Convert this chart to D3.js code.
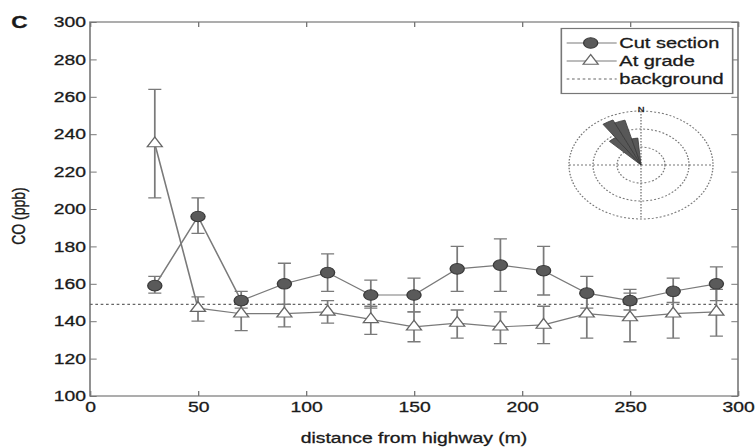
<!DOCTYPE html>
<html>
<head>
<meta charset="utf-8">
<script src="https://cdn.jsdelivr.net/npm/d3@7"></script>
<style>
  body { margin: 0; background: #fff; }
  svg { display: block; }
  text { font-family: "Liberation Sans", Arial, sans-serif; fill: #1a1a1a; stroke: #1a1a1a; stroke-width: 0.3; }
</style>
</head>
<body>
<div id="vis"></div>
<script>
// CO vs distance, cut section vs at grade
const distance = [30, 50, 70, 90, 110, 130, 150, 170, 190, 210, 230, 250, 270, 290]

const cutMean = [159, 196, 151, 160, 166, 154, 154, 168, 170, 167, 155, 151, 156, 160]
const cutLow  = [155, 187, 147, 149, 156, 147, 145, 156, 156, 154, 147, 146, 150, 151]
const cutHigh = [164, 206, 156, 171, 176, 162, 163, 180, 184, 180, 164, 157, 163, 169]

const gradeMean = [235, 147, 144, 144, 145, 141, 137, 139, 137, 138, 144, 142, 144, 145]
const gradeLow  = [206, 140, 135, 137, 139, 133, 129, 131, 128, 128, 131, 129, 131, 132]
const gradeHigh = [264, 153, 150, 149, 151, 148, 145, 146, 145, 148, 155, 155, 156, 157]

const background = 149

const xTicks = [0, 50, 100, 150, 200, 250, 300]
const yTicks = [100, 120, 140, 160, 180, 200, 220, 240, 260, 280, 300]

const legendLabels = ['Cut section', 'At grade', 'background']

// wind rose: sector centre (deg from N) and relative frequency
const windDir = [320, 330, 340, 350]
const windFreq = [0.62, 0.92, 0.86, 0.5]
const windRings = [1/3, 2/3, 1]

// the original figure is stretched horizontally, so draw in a narrower box and stretch it
const W = 567, H = 448
const margin = {left: 67.5, right: 13.5, top: 22, bottom: 52}

const x = d3.scaleLinear([0, 300], [margin.left, W - margin.right])
const y = d3.scaleLinear([100, 300], [H - margin.bottom, margin.top])

const svg = d3.select('#vis').append('svg')
    .attr('width', 756)
    .attr('height', 448)
    .attr('viewBox', `0 0 ${W} ${H}`)
    .attr('preserveAspectRatio', 'none')

const axisColor = '#777'
const lineColor = '#7a7a7a'

// axes (ticks pointing inwards, on all four sides)
svg.append('g')
    .attr('transform', `translate(0,${y(100)})`)
    .call(d3.axisBottom(x).tickValues(xTicks).tickSize(-5).tickPadding(6))
    .call(g => g.select('.domain').remove())
    .call(g => g.selectAll('.tick line').attr('stroke', axisColor))
    .call(g => g.selectAll('.tick text').attr('font-size', 14.5).attr('fill', '#1a1a1a'))

svg.append('g')
    .attr('transform', `translate(${x(0)},0)`)
    .call(d3.axisLeft(y).tickValues(yTicks).tickSize(-5).tickPadding(3))
    .call(g => g.select('.domain').remove())
    .call(g => g.selectAll('.tick line').attr('stroke', axisColor))
    .call(g => g.selectAll('.tick text').attr('font-size', 14.5).attr('fill', '#1a1a1a'))

svg.append('g')
    .attr('transform', `translate(0,${y(300)})`)
    .call(d3.axisTop(x).tickValues(xTicks).tickSize(-5).tickFormat(''))
    .call(g => g.select('.domain').remove())
    .call(g => g.selectAll('.tick line').attr('stroke', axisColor))

svg.append('g')
    .attr('transform', `translate(${x(300)},0)`)
    .call(d3.axisRight(y).tickValues(yTicks).tickSize(-5).tickFormat(''))
    .call(g => g.select('.domain').remove())
    .call(g => g.selectAll('.tick line').attr('stroke', axisColor))

svg.append('rect')
    .attr('x', x(0)).attr('y', y(300))
    .attr('width', x(300) - x(0)).attr('height', y(100) - y(300))
    .attr('fill', 'none').attr('stroke', axisColor).attr('stroke-width', 1.2)

// titles
svg.append('text')
    .attr('x', 8.5).attr('y', 28)
    .attr('font-size', 17).attr('font-weight', 'bold')
    .text('C')

svg.append('text')
    .attr('x', (x(0) + x(300)) / 2).attr('y', 443)
    .attr('text-anchor', 'middle')
    .attr('font-size', 14.5)
    .text('distance from highway (m)')

svg.append('text')
    .attr('transform', `translate(19,216) rotate(-90)`)
    .attr('text-anchor', 'middle')
    .attr('font-size', 14)
    .text('CO (ppb)')

// background
svg.append('line')
    .attr('x1', x(0)).attr('x2', x(300))
    .attr('y1', y(background)).attr('y2', y(background))
    .attr('stroke', '#666').attr('stroke-width', 1.2)
    .attr('stroke-dasharray', '2,2')

// series
const cut = distance.map((d, i) => ({d, m: cutMean[i], lo: cutLow[i], hi: cutHigh[i]}))
const grade = distance.map((d, i) => ({d, m: gradeMean[i], lo: gradeLow[i], hi: gradeHigh[i]}))

const line = d3.line().x(p => x(p.d)).y(p => y(p.m))

function errorBars(data, cls){
    let g = svg.append('g').attr('class', cls)
        .attr('stroke', lineColor).attr('stroke-width', 1.3).attr('fill', 'none')
    let cap = 4.9
    g.selectAll('path')
        .data(data).enter()
        .append('path')
        .attr('d', p => `M${x(p.d)},${y(p.lo)}V${y(p.hi)}` +
            `M${x(p.d) - cap},${y(p.lo)}H${x(p.d) + cap}` +
            `M${x(p.d) - cap},${y(p.hi)}H${x(p.d) + cap}`)
}

errorBars(grade, 'grade-err')
errorBars(cut, 'cut-err')

svg.append('path').datum(grade)
    .attr('d', line).attr('fill', 'none')
    .attr('stroke', lineColor).attr('stroke-width', 1.2)

svg.append('path').datum(cut)
    .attr('d', line).attr('fill', 'none')
    .attr('stroke', lineColor).attr('stroke-width', 1.2)

const tri = d3.symbol().type(d3.symbolTriangle).size(55)

svg.selectAll('.grade-pt')
    .data(grade).enter()
    .append('path')
    .attr('class', 'grade-pt')
    .attr('transform', p => `translate(${x(p.d)},${y(p.m)})`)
    .attr('d', tri)
    .attr('fill', '#fff').attr('stroke', '#666').attr('stroke-width', 1.1)

svg.selectAll('.cut-pt')
    .data(cut).enter()
    .append('circle')
    .attr('class', 'cut-pt')
    .attr('cx', p => x(p.d)).attr('cy', p => y(p.m))
    .attr('r', 5.3)
    .attr('fill', '#5a5a5a').attr('stroke', '#3a3a3a').attr('stroke-width', 1)

// legend
const lg = svg.append('g')
lg.append('rect')
    .attr('x', 421).attr('y', 28.5)
    .attr('width', 128.5).attr('height', 65)
    .attr('fill', '#fff').attr('stroke', axisColor).attr('stroke-width', 1.2)

const legendY = d3.scalePoint(legendLabels, [43, 79])

lg.selectAll('.leg-line')
    .data(legendLabels).enter()
    .append('line')
    .attr('x1', 425).attr('x2', 462.5)
    .attr('y1', d => legendY(d)).attr('y2', d => legendY(d))
    .attr('stroke', (d, i) => i < 2 ? lineColor : '#666')
    .attr('stroke-width', 1.2)
    .attr('stroke-dasharray', (d, i) => i < 2 ? null : '2,2')

lg.append('circle')
    .attr('cx', 443).attr('cy', legendY('Cut section')).attr('r', 5.3)
    .attr('fill', '#5a5a5a').attr('stroke', '#3a3a3a')

lg.append('path')
    .attr('transform', `translate(443,${legendY('At grade')})`)
    .attr('d', tri)
    .attr('fill', '#fff').attr('stroke', '#666').attr('stroke-width', 1.1)

lg.selectAll('.leg-text')
    .data(legendLabels).enter()
    .append('text')
    .attr('x', 464.5)
    .attr('y', d => legendY(d) + 5)
    .attr('font-size', 15)
    .text(d => d)

// wind rose
const cx = 480.75, cy = 165
const rose = svg.append('g').attr('transform', `translate(${cx},${cy})`)
const r = d3.scaleLinear([0, 1], [0, 54])

rose.selectAll('.ring')
    .data(windRings).enter()
    .append('circle')
    .attr('r', d => r(d))
    .attr('fill', 'none').attr('stroke', '#777')
    .attr('stroke-width', 1).attr('stroke-dasharray', '1.5,1.5')

rose.append('path')
    .attr('d', `M${-r(1)},0H${r(1)}M0,${-r(1)}V${r(1)}`)
    .attr('stroke', '#777').attr('stroke-width', 1).attr('stroke-dasharray', '1.5,1.5')

const arc = d3.arc()
    .innerRadius(0)
    .outerRadius(d => r(d.f))
    .startAngle(d => (d.dir - 5) * Math.PI / 180)
    .endAngle(d => (d.dir + 5) * Math.PI / 180)

rose.selectAll('.wedge')
    .data(windDir.map((dir, i) => ({dir, f: windFreq[i]}))).enter()
    .append('path')
    .attr('d', arc)
    .attr('fill', '#585858').attr('stroke', '#3a3a3a').attr('stroke-width', 0.7)

rose.append('text')
    .attr('x', 0).attr('y', -r(1) + 1)
    .attr('text-anchor', 'middle')
    .attr('font-size', 7).attr('fill', '#666')
    .attr('stroke', 'none')
    .text('N')
</script>
</body>
</html>
